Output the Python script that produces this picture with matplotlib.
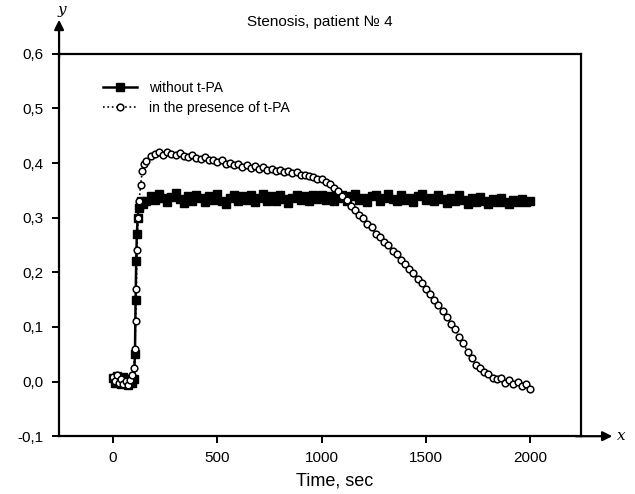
import matplotlib
matplotlib.use("Agg")
import matplotlib.pyplot as plt

plt.rcParams['font.family'] = ['Liberation Sans', 'DejaVu Sans']

title = "Stenosis, patient № 4"
xlabel = "Time, sec"
label_without = "without t-PA"
label_with = "in the presence of t-PA"
xticks = [0, 500, 1000, 1500, 2000]
yticks = [-0.1, 0.0, 0.1, 0.2, 0.3, 0.4, 0.5, 0.6]
ytick_labels = ["-0,1", "0,0", "0,1", "0,2", "0,3", "0,4", "0,5", "0,6"]

t_without = [0, 10, 20, 30, 40, 50, 60, 70, 80, 90, 100,
             105, 108, 111, 114, 118, 122, 128, 135, 145,
             160, 180, 200, 220, 240, 260, 280, 300, 320, 340, 360, 380, 400,
             420, 440, 460, 480, 500, 520, 540, 560, 580, 600, 620, 640, 660,
             680, 700, 720, 740, 760, 780, 800, 820, 840, 860, 880, 900, 920,
             940, 960, 980, 1000, 1020, 1040, 1060, 1080, 1100, 1120, 1140,
             1160, 1180, 1200, 1220, 1240, 1260, 1280, 1300, 1320, 1340, 1360,
             1380, 1400, 1420, 1440, 1460, 1480, 1500, 1520, 1540, 1560, 1580,
             1600, 1620, 1640, 1660, 1680, 1700, 1720, 1740, 1760, 1780, 1800,
             1820, 1840, 1860, 1880, 1900, 1920, 1940, 1960, 1980, 2000]
v_without = [0.007, -0.003, 0.010, 0.000, -0.005, 0.008, 0.002, -0.006, 0.004, -0.002, 0.005,
             0.05, 0.15, 0.22, 0.27, 0.30, 0.318, 0.325, 0.330, 0.326,
             0.330, 0.340, 0.333, 0.343, 0.336, 0.328, 0.338, 0.345, 0.334, 0.327, 0.340, 0.331, 0.342,
             0.336, 0.328, 0.339, 0.333, 0.343, 0.331, 0.326, 0.337, 0.341, 0.330, 0.339, 0.333, 0.342,
             0.328, 0.337, 0.343, 0.331, 0.339, 0.330, 0.341, 0.335, 0.327, 0.337, 0.342, 0.333, 0.339,
             0.331, 0.341, 0.335, 0.342, 0.333, 0.339, 0.330, 0.337, 0.341, 0.331, 0.339,
             0.343, 0.333, 0.337, 0.328, 0.339, 0.342, 0.331, 0.337, 0.344, 0.335, 0.330,
             0.341, 0.333, 0.337, 0.328, 0.339, 0.343, 0.333, 0.337, 0.330, 0.341, 0.335,
             0.327, 0.337, 0.331, 0.341, 0.333, 0.326, 0.336, 0.329, 0.338, 0.330, 0.326,
             0.334, 0.328, 0.336, 0.329, 0.325, 0.333, 0.328, 0.335, 0.329, 0.331]

t_with = [0, 10, 20, 30, 40, 50, 60, 70, 80, 90, 100,
          105, 108, 112, 115, 120, 125, 132, 140, 150,
          160, 180, 200, 220, 240, 260, 280, 300, 320, 340, 360, 380, 400,
          420, 440, 460, 480, 500, 520, 540, 560, 580, 600, 620, 640, 660,
          680, 700, 720, 740, 760, 780, 800, 820, 840, 860, 880, 900, 920,
          940, 960, 980, 1000, 1020, 1040, 1060, 1080, 1100, 1120, 1140,
          1160, 1180, 1200, 1220, 1240, 1260, 1280, 1300, 1320, 1340, 1360,
          1380, 1400, 1420, 1440, 1460, 1480, 1500, 1520, 1540, 1560, 1580,
          1600, 1620, 1640, 1660, 1680, 1700, 1720, 1740, 1760, 1780, 1800,
          1820, 1840, 1860, 1880, 1900, 1920, 1940, 1960, 1980, 2000]
v_with = [0.009, 0.001, 0.012, -0.003, 0.005, -0.005, 0.001, -0.006, 0.003, 0.012, 0.025,
          0.06, 0.11, 0.17, 0.24, 0.30, 0.33, 0.36, 0.385, 0.398,
          0.404, 0.413, 0.416, 0.421, 0.415, 0.421, 0.416, 0.414, 0.419, 0.413, 0.411, 0.415, 0.409,
          0.408, 0.412, 0.405, 0.406, 0.402, 0.405, 0.399, 0.400, 0.396, 0.399, 0.393, 0.396, 0.391,
          0.394, 0.389, 0.392, 0.387, 0.390, 0.385, 0.388, 0.383, 0.386, 0.381, 0.384, 0.379, 0.379,
          0.376, 0.375, 0.371, 0.370, 0.365, 0.362, 0.354, 0.349, 0.339, 0.332, 0.321,
          0.314, 0.305, 0.299, 0.289, 0.283, 0.271, 0.265, 0.255, 0.250, 0.239, 0.233,
          0.223, 0.216, 0.206, 0.199, 0.188, 0.180, 0.169, 0.161, 0.149, 0.141, 0.129,
          0.119, 0.106, 0.096, 0.082, 0.071, 0.054, 0.043, 0.031, 0.025, 0.017, 0.013,
          0.007, 0.005, 0.006, -0.002, 0.003, -0.005, -0.001, -0.009, -0.005, -0.013]

fig = plt.figure(figsize=(6.35, 4.94), dpi=100)
ax = fig.add_axes([0.093, 0.117, 0.822, 0.774])

ax.plot(t_without, v_without, color='black', linestyle='-', linewidth=1.8,
        marker='s', markersize=5.2, markerfacecolor='black',
        markeredgecolor='black', label=label_without, zorder=3)
ax.plot(t_with, v_with, color='black', linestyle=':', linewidth=1.2,
        marker='o', markersize=4.8, markerfacecolor='white',
        markeredgecolor='black', markeredgewidth=1.1, label=label_with, zorder=4)

ax.set_xlim(-259, 2244)
ax.set_ylim(-0.1, 0.6)
ax.set_xticks(xticks)
ax.set_xticklabels([str(v) for v in xticks])
ax.set_yticks(yticks)
ax.set_yticklabels(ytick_labels)
ax.tick_params(axis='both', direction='out', labelsize=11, width=1.4, length=5, pad=6)
for s in ax.spines.values():
    s.set_linewidth(1.6)

ax.set_title(title, fontsize=11, pad=20)
ax.set_xlabel(xlabel, fontsize=13, labelpad=6)
ax.xaxis.set_label_coords(0.527, -0.095)

# axis arrows
ax.annotate('', xy=(0, 1.089), xytext=(0, 0.99), xycoords='axes fraction',
            arrowprops=dict(arrowstyle='-|>', color='black', lw=1.6, mutation_scale=14,
                            shrinkA=0, shrinkB=0), annotation_clip=False)
ax.annotate('', xy=(1.06, 0), xytext=(0.99, 0), xycoords='axes fraction',
            arrowprops=dict(arrowstyle='-|>', color='black', lw=1.6, mutation_scale=14,
                            shrinkA=0, shrinkB=0), annotation_clip=False)
ax.text(0.006, 1.115, 'y', transform=ax.transAxes, fontsize=11, family='DejaVu Serif',
        style='italic', ha='center', va='center')
ax.text(1.078, 0.0, 'x', transform=ax.transAxes, fontsize=11, family='DejaVu Serif',
        style='italic', ha='center', va='center')

leg = ax.legend(loc='upper left', bbox_to_anchor=(0.085, 0.93), frameon=False,
                fontsize=10, handlelength=2.4, handletextpad=0.9, labelspacing=0.45,
                borderaxespad=0, borderpad=0)

fig.savefig('out.png', dpi=100)
